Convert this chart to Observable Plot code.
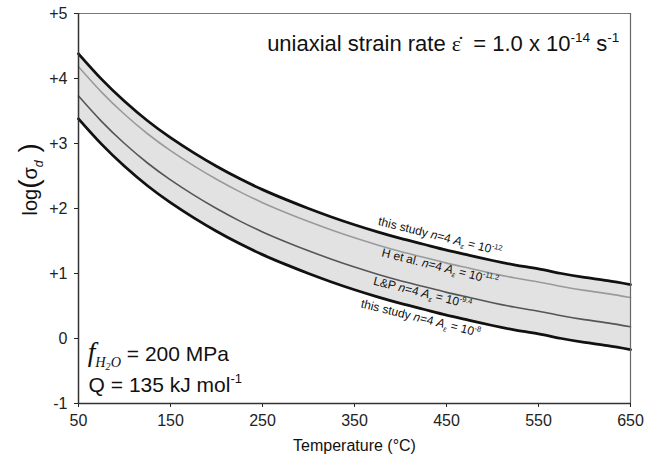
<!DOCTYPE html>
<html>
<head>
<meta charset="utf-8">
<script src="https://cdn.jsdelivr.net/npm/d3@7"></script>
<script src="https://cdn.jsdelivr.net/npm/@observablehq/plot@0.6"></script>
<style>
  html, body { margin: 0; padding: 0; background: #fff; }
  #chart { width: 649px; height: 460px; }
</style>
</head>
<body>
<div id="chart"></div>
<script>
// ---- data ----
const temperature = [50, 75, 100, 125, 150, 175, 200, 225, 250, 275, 300, 325, 350, 375, 400, 425, 450, 475, 500, 525, 550, 575, 600, 625, 650];
const studyA12 = [4.38, 3.99, 3.65, 3.35, 3.09, 2.86, 2.65, 2.46, 2.29, 2.14, 2.00, 1.87, 1.75, 1.64, 1.54, 1.45, 1.36, 1.28, 1.20, 1.13, 1.07, 1.00, 0.94, 0.89, 0.83];
const hEtAl = [4.18, 3.79, 3.45, 3.15, 2.89, 2.66, 2.45, 2.26, 2.09, 1.94, 1.80, 1.67, 1.55, 1.44, 1.34, 1.25, 1.16, 1.08, 1.00, 0.93, 0.87, 0.80, 0.74, 0.69, 0.63];
const lAndP = [3.73, 3.34, 3.00, 2.70, 2.44, 2.21, 2.00, 1.81, 1.64, 1.49, 1.35, 1.22, 1.10, 0.99, 0.89, 0.80, 0.71, 0.63, 0.55, 0.48, 0.42, 0.35, 0.29, 0.24, 0.18];
const studyA8 = [3.38, 2.99, 2.65, 2.35, 2.09, 1.86, 1.65, 1.46, 1.29, 1.14, 1.00, 0.87, 0.75, 0.64, 0.54, 0.45, 0.36, 0.28, 0.20, 0.13, 0.07, 0.00, -0.06, -0.11, -0.17];

const xTicks = [50, 150, 250, 350, 450, 550, 650];
const yTicks = [-1, 0, 1, 2, 3, 4, 5];
const yTickLabels = ["-1", "0", "+1", "+2", "+3", "+4", "+5"];

const curveLabels = [
  "this study *n*=4 *A*_{ε} = 10^{-12}",
  "H et al. *n*=4 *A*_{ε} = 10^{-11.2}",
  "L&P *n*=4 *A*_{ε} = 10^{-9.4}",
  "this study *n*=4 *A*_{ε} = 10^{-8}"
];
const curveLabelT = [443, 443, 424, 422];
const curveLabelV = [1.57, 1.10, 0.70, 0.31];

const strainText = "uniaxial strain rate ~{ε̇}  = 1.0 x 10^{-14} s^{-1}";
const strainPos = {T: 638, v: 4.53};
const fugText = "f_{H2O} = 200 MPa";
const fugPos = {T: 60, v: -0.24};
const qText = "Q = 135 kJ mol^{-1}";
const qPos = {T: 61, v: -0.72};
const yTitle = "log(σ_{d})";
const xTitle = "Temperature (°C)";

// ---- table for the library ----
const rows = temperature.map((T, i) => ({T, top: studyA12[i], h: hEtAl[i], lp: lAndP[i], bot: studyA8[i]}));
const labelRows = curveLabels.map((s, i) => ({s, T: curveLabelT[i], v: curveLabelV[i]}));

const sans = "'Liberation Sans', Arial, Helvetica, sans-serif";
const serif = "'Liberation Serif', 'Times New Roman', serif";
const curve = "natural";

const chart = Plot.plot({
  width: 649,
  height: 460,
  marginLeft: 78,
  marginRight: 19,
  marginTop: 13,
  marginBottom: 57,
  style: {fontFamily: sans, fontSize: "16px", color: "#222", background: "#fff"},
  x: {domain: [50, 650], ticks: xTicks, tickSize: 4, tickPadding: 7, label: null},
  y: {domain: [-1, 5], ticks: yTicks, tickFormat: (d) => yTickLabels[yTicks.indexOf(d)], tickSize: 4, tickPadding: 7, label: null},
  marks: [
    Plot.areaY(rows, {x: "T", y1: "bot", y2: "top", fill: "#e2e2e2", curve}),
    Plot.line(rows, {x: "T", y: "h", stroke: "#9a9a9a", strokeWidth: 1.6, curve}),
    Plot.line(rows, {x: "T", y: "lp", stroke: "#555", strokeWidth: 1.6, curve}),
    Plot.line(rows, {x: "T", y: "top", stroke: "#111", strokeWidth: 2.8, curve}),
    Plot.line(rows, {x: "T", y: "bot", stroke: "#111", strokeWidth: 2.8, curve}),
    Plot.ruleX([650], {stroke: "#666", strokeWidth: 1.2}),
    Plot.ruleY([5], {stroke: "#777", strokeWidth: 1}),
    Plot.ruleX([50], {stroke: "#333", strokeWidth: 1.5}),
    Plot.ruleY([-1], {stroke: "#333", strokeWidth: 1.5}),
    Plot.text(labelRows, {x: "T", y: "v", text: "s", rotate: 14, fontSize: 12, fill: "#111"}),
    Plot.text([strainPos], {x: "T", y: "v", text: () => strainText, textAnchor: "end", fontSize: 22, fill: "#111"}),
    Plot.text([fugPos], {x: "T", y: "v", text: () => fugText, textAnchor: "start", fontSize: 21, fill: "#111"}),
    Plot.text([qPos], {x: "T", y: "v", text: () => qText, textAnchor: "start", fontSize: 21, fill: "#111"}),
    Plot.text([yTitle], {frameAnchor: "left", dx: -48, dy: 7, rotate: -90, fontSize: 20, fill: "#111"}),
    Plot.text([xTitle], {frameAnchor: "bottom", dy: 47, fontSize: 16, fill: "#111"})
  ]
});

document.getElementById("chart").appendChild(chart);

// ---- rich text helpers (sub/superscripts, italics) ----
function setPieces(el, pieces, base) {
  while (el.firstChild) el.removeChild(el.firstChild);
  let cur = 0;
  for (const p of pieces) {
    const ts = document.createElementNS("http://www.w3.org/2000/svg", "tspan");
    ts.textContent = p.t;
    const off = (p.off || 0) * base;
    const d = off - cur;
    if (Math.abs(d) > 0.001) ts.setAttribute("dy", d.toFixed(2));
    cur = off;
    if (p.size) ts.setAttribute("font-size", (p.size * base).toFixed(2));
    if (p.italic) ts.setAttribute("font-style", "italic");
    if (p.family) ts.setAttribute("font-family", p.family);
    el.appendChild(ts);
  }
  el.setAttribute("xml:space", "preserve");
  el.style.whiteSpace = "pre";
}
function parseMarkup(s) {
  const re = /\*([^*]+)\*|\^\{([^}]*)\}|_\{([^}]*)\}|~\{([^}]*)\}|([^*^_~]+)/g;
  const out = [];
  let m;
  while ((m = re.exec(s))) {
    if (m[1] !== undefined) out.push({t: m[1], italic: true});
    else if (m[2] !== undefined) out.push({t: m[2], off: -0.42, size: 0.62});
    else if (m[3] !== undefined) out.push({t: m[3], off: 0.25, size: 0.62, italic: true});
    else if (m[4] !== undefined) out.push({t: m[4], family: serif, size: 1.0});
    else out.push({t: m[5]});
  }
  return out;
}
d3.select(chart).selectAll("text").each(function () {
  const s = this.textContent;
  if (curveLabels.includes(s)) setPieces(this, parseMarkup(s), 12);
  else if (s === strainText) setPieces(this, parseMarkup(s), 22);
  else if (s === qText) setPieces(this, parseMarkup(s), 21);
  else if (s === fugText) setPieces(this, [
    {t: "f", family: serif, italic: true, size: 1.3},
    {t: "H", family: serif, italic: true, size: 0.68, off: 0.3},
    {t: "2", family: serif, italic: true, size: 0.48, off: 0.42},
    {t: "O", family: serif, italic: true, size: 0.68, off: 0.3},
    {t: " = 200 MPa", off: 0}
  ], 21);
  else if (s === yTitle) setPieces(this, [
    {t: "log"},
    {t: "(", size: 1.4, off: 0.03},
    {t: "σ", off: 0},
    {t: "d", italic: true, size: 0.62, off: 0.28},
    {t: " )", size: 1.4, off: 0.03}
  ], 20);
});
</script>
</body>
</html>
